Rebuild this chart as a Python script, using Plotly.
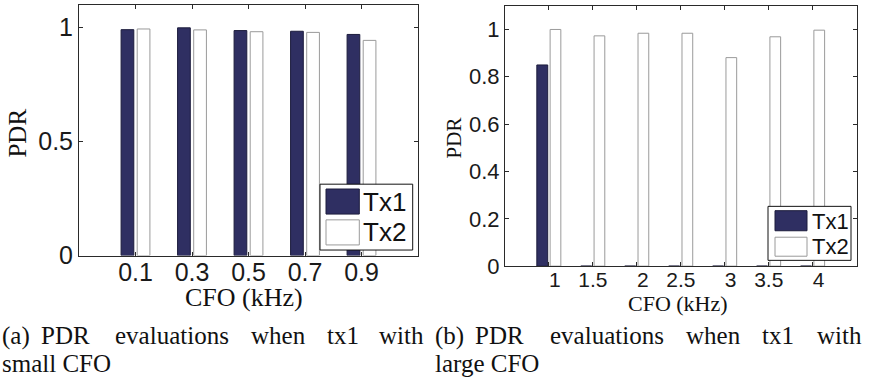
import plotly.graph_objects as go

# ---------------- data ----------------
cfo_small = [0.1, 0.3, 0.5, 0.7, 0.9]
small_labels = ["0.1", "0.3", "0.5", "0.7", "0.9"]
pdr_small_tx1 = [0.991, 0.999, 0.987, 0.984, 0.970]
pdr_small_tx2 = [0.994, 0.990, 0.982, 0.979, 0.944]

cfo_large = [1, 1.5, 2, 2.5, 3, 3.5, 4]
large_labels = ["1", "1.5", "2", "2.5", "3", "3.5", "4"]
pdr_large_tx1 = [0.85, 0, 0, 0, 0, 0, 0]
pdr_large_tx2 = [1.0, 0.973, 0.984, 0.984, 0.881, 0.969, 0.997]

small_y_ticks = [0, 0.5, 1]
small_y_labels = ["0", "0.5", "1"]
large_y_ticks = [0, 0.2, 0.4, 0.6, 0.8, 1]
large_y_labels = ["0", "0.2", "0.4", "0.6", "0.8", "1"]

series_names = ["Tx1", "Tx2"]

# ---------------- style ----------------
W, H = 875, 392
NAVY = "#2f2f62"
NAVY_EDGE = "#1c1c3c"
WHITE_EDGE = "#9a9a9a"
AX = "#2a2a2a"
SANS = "Liberation Sans, Arial, sans-serif"
SERIF = "Liberation Serif, Times New Roman, serif"


def px(x):
    return x / W


def py(y):
    return 1 - y / H


fig = go.Figure()

fig.add_trace(go.Bar(x=cfo_small, y=pdr_small_tx1, name=series_names[0],
                     width=0.045, offset=-0.051,
                     marker=dict(color=NAVY, line=dict(color=NAVY_EDGE, width=1)),
                     xaxis="x", yaxis="y", showlegend=False))
fig.add_trace(go.Bar(x=cfo_small, y=pdr_small_tx2, name=series_names[1],
                     width=0.045, offset=0.006,
                     marker=dict(color="white", line=dict(color=WHITE_EDGE, width=1)),
                     xaxis="x", yaxis="y", showlegend=False))
fig.add_trace(go.Bar(x=cfo_large, y=pdr_large_tx1, name=series_names[0],
                     width=0.124, offset=-0.138,
                     marker=dict(color=NAVY, line=dict(color=NAVY_EDGE, width=1)),
                     xaxis="x2", yaxis="y2", showlegend=False))
fig.add_trace(go.Bar(x=cfo_large, y=pdr_large_tx2, name=series_names[1],
                     width=0.122, offset=0.013,
                     marker=dict(color="white", line=dict(color=WHITE_EDGE, width=1)),
                     xaxis="x2", yaxis="y2", showlegend=False))

common = dict(showline=True, linecolor=AX, linewidth=1, mirror="ticks",
              ticks="inside", ticklen=4, tickcolor=AX, showgrid=False,
              zeroline=False, fixedrange=True)

large_ticktext = [("\u00a0\u00a0" + t) if "." not in t else t for t in large_labels]

fig.update_layout(
    width=W, height=H, autosize=False,
    margin=dict(l=0, r=0, t=0, b=0),
    paper_bgcolor="white", plot_bgcolor="white",
    barmode="overlay",
    xaxis=dict(domain=[px(79), px(418)], range=[-0.1, 1.1], anchor="y",
               tickvals=cfo_small, ticktext=small_labels, ticklabelstandoff=-6,
               tickfont=dict(family=SANS, size=25, color="#1a1a1a"), **common),
    yaxis=dict(domain=[py(265), py(5)], range=[0, 1.1], anchor="x",
               tickvals=small_y_ticks, ticktext=small_y_labels,
               tickfont=dict(family=SANS, size=25, color="#1a1a1a"), **common),
    xaxis2=dict(domain=[px(505), px(856.7)], range=[0.5, 4.5], anchor="y2",
                tickvals=cfo_large, ticktext=large_ticktext, ticklabelstandoff=-5,
                tickfont=dict(family=SANS, size=21, color="#1a1a1a"), **common),
    yaxis2=dict(domain=[py(276), py(6)], range=[0, 1.1], anchor="x2",
                tickvals=large_y_ticks, ticktext=large_y_labels,
                tickfont=dict(family=SANS, size=22, color="#1a1a1a"), **common),
)

shapes = []
annotations = []


def ann(text, x, y, size, family=SERIF, xanchor="center", yanchor="middle", angle=0):
    annotations.append(dict(text=text, x=px(x), y=py(y), xref="paper", yref="paper",
                            xanchor=xanchor, yanchor=yanchor, showarrow=False,
                            textangle=angle,
                            font=dict(family=family, size=size, color="#111111")))


def rect(x0, y0, x1, y1, fill, line, width=1):
    shapes.append(dict(type="rect", xref="paper", yref="paper",
                       x0=px(x0), x1=px(x1), y0=py(y1), y1=py(y0),
                       fillcolor=fill, line=dict(color=line, width=width)))


# axis titles
ann("PDR", 17.5, 138, 25, angle=-90)
ann("CFO (kHz)", 244, 309, 26)
ann("PDR", 453.5, 143, 21, angle=-90)
ann("CFO (kHz)", 677.5, 315, 22)

# legends
rect(320, 191, 412.7, 259.3, "white", "#111111")
rect(326, 196, 359.3, 222, NAVY, NAVY_EDGE)
rect(326, 228, 359.3, 254, "white", WHITE_EDGE)
ann(series_names[0], 361, 209.5, 26, family=SANS, xanchor="left")
ann(series_names[1], 361, 240.5, 26, family=SANS, xanchor="left")
rect(768, 214, 851, 270, "white", "#111111")
rect(775, 218.5, 807, 239.3, NAVY, NAVY_EDGE)
rect(775, 246, 807, 265.7, "white", WHITE_EDGE)
ann(series_names[0], 810, 229.5, 22, family=SANS, xanchor="left")
ann(series_names[1], 810, 256, 22, family=SANS, xanchor="left")

# captions (justified words)
cap_a = [("(a)", 16), ("PDR", 65), ("evaluations", 171.5), ("when", 278.5),
         ("tx1", 343), ("with", 401)]
cap_b = [("(b)", 449), ("PDR", 499), ("evaluations", 606.5), ("when", 713.5),
         ("tx1", 778), ("with", 839)]
for w, cx in cap_a + cap_b:
    ann(w, cx, 348, 25)
ann("small CFO", 0, 376.7, 25, xanchor="left")
ann("large CFO", 433, 376.7, 25, xanchor="left")

fig.update_layout(shapes=shapes, annotations=annotations)

fig.write_html("out.html", config={"responsive": False})
